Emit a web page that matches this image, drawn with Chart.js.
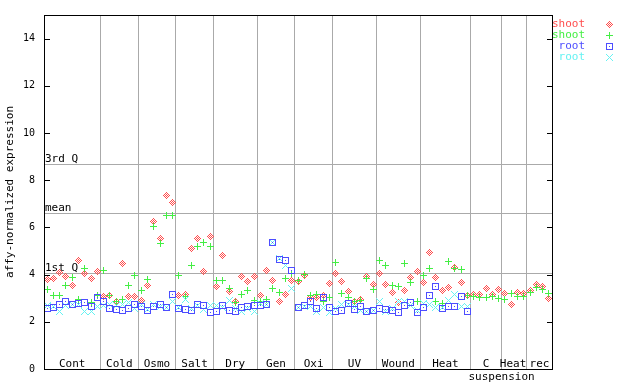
<!DOCTYPE html>
<html>
<head>
<meta charset="utf-8">
<script src="https://cdn.jsdelivr.net/npm/chart.js@4/dist/chart.umd.min.js"></script>
<style>
  body { margin: 0; background: #fff; }
  canvas { display: block; }
</style>
</head>
<body>
<canvas id="myChart" width="640" height="384"></canvas>
<script>
// Gruppi di campioni (etichette asse x) e numero di campioni per gruppo
const groupNames = ['Cont', 'Cold', 'Osmo', 'Salt', 'Dry', 'Gen', 'Oxi', 'UV', 'Wound', 'Heat', 'C suspension', 'Heat', 'rec'];
const groupSizes = [9, 6, 6, 6, 7, 6, 6, 7, 7, 8, 5, 4, 4];

// Valori, un valore per campione
const shootRed = [
    3.79, 3.82, 4.09, 3.91, 3.54, 4.60, 4.06, 3.82, 4.13,
    3.08, 3.11, 2.84, 4.46, 3.08, 3.08,
    2.90, 3.53, 6.27, 5.51, 7.37, 7.07,
    3.11, 3.15, 5.09, 5.55, 4.13, 5.60,
    3.49, 4.79, 3.28, 2.88, 3.91, 3.70, 3.91,
    3.11, 4.16, 3.74, 2.85, 3.15, 3.74,
    3.71, 3.95, 3.02, 3.02, 3.11, 3.61,
    4.03, 3.70, 3.28, 2.85, 2.94, 3.91, 3.57,
    4.03, 3.57, 3.23, 2.81, 3.32, 3.87, 4.12,
    3.65, 4.92, 3.87, 3.32, 3.44, 4.31, 3.65, 3.11,
    3.15, 3.15, 3.40, 3.15, 3.36,
    3.19, 2.73, 3.23, 3.19,
    3.32, 3.57, 3.49, 2.98
];
const shootGreen = [
    3.36, 3.11, 3.11, 3.53, 3.87, 2.94, 4.25, 2.81, 3.12,
    4.16, 3.11, 2.85, 2.94, 3.53, 3.95,
    3.32, 3.78, 6.02, 5.30, 6.52, 6.52,
    3.95, 3.07, 4.37, 5.17, 5.38, 5.17,
    3.74, 3.74, 3.40, 2.81, 3.15, 3.32, 2.90,
    2.85, 2.95, 3.40, 3.25, 3.85, 4.05,
    3.75, 4.00, 3.11, 3.15, 2.85, 3.02,
    4.50, 3.19, 3.02, 2.85, 2.90, 3.82, 3.36,
    4.58, 4.37, 3.53, 3.49, 4.46, 3.65, 2.85,
    3.95, 4.25, 2.85, 2.77, 4.54, 4.25, 4.21, 3.11,
    3.06, 3.02, 3.02, 3.06, 2.98,
    2.94, 3.19, 3.06, 3.06,
    3.23, 3.44, 3.36, 3.19
];
const rootBlue = [
    2.56, 2.60, 2.73, 2.85, 2.73, 2.76, 2.81, 2.64, 3.02,
    2.85, 2.56, 2.52, 2.48, 2.56, 2.73,
    2.64, 2.48, 2.64, 2.73, 2.60, 3.15,
    2.56, 2.52, 2.48, 2.73, 2.69, 2.39,
    2.43, 2.69, 2.48, 2.43, 2.60, 2.64, 2.69,
    2.69, 2.73, 5.37, 4.63, 4.58, 4.16,
    2.60, 2.69, 2.85, 2.56, 3.02, 2.60,
    2.43, 2.48, 2.77, 2.52, 2.64, 2.43, 2.48,
    2.56, 2.52, 2.47, 2.39, 2.68, 2.81, 2.39,
    2.60, 3.11, 3.49, 2.56, 2.64, 2.64, 3.06, 2.43,
    null, null, null, null, null,
    null, null, null, null,
    null, null, null, null
];
const rootCyan = [
    2.70, 2.65, 2.45, 2.70, 2.75, 2.75, 2.45, 2.45, 2.65,
    2.69, 2.74, 2.70, 2.74, 2.81, 2.56,
    2.73, 2.52, 2.72, 2.64, 2.60, 2.85,
    2.60, 2.94, 2.56, 2.69, 2.52, 2.69,
    2.69, 2.60, 2.90, 2.55, 2.43, 2.55, 2.43,
    2.77, 2.75, 5.35, 4.70, 4.40, 3.41,
    2.60, 2.65, 2.64, 2.43, 2.60, 2.39,
    2.55, 2.73, 2.75, 2.65, 2.50, 2.45, 2.50,
    2.85, 2.43, 2.55, 2.85, 2.85, 2.68, 2.47,
    2.77, 2.73, 2.60, 2.60, 2.90, 3.15, 2.64, 2.64,
    null, null, null, null, null,
    null, null, null, null,
    null, null, null, null
];

// Linee di riferimento (quartili e media)
const refNames = ['3rd Q', 'mean', '1st Q'];
const refValues = [8.69, 6.61, 4.08];

const yTicks = [0, 2, 4, 6, 8, 10, 12, 14];
const fontMono = "'DejaVu Sans Mono', monospace";

// Crea un piccolo marker 7x7 disegnato pixel per pixel
function makeMarker(kind, color) {
    const c = document.createElement('canvas');
    c.width = 7;
    c.height = 7;
    const g = c.getContext('2d');
    g.fillStyle = color;
    for (let dy = -3; dy <= 3; dy++) {
        for (let dx = -3; dx <= 3; dx++) {
            const ax = Math.abs(dx), ay = Math.abs(dy);
            let on = false;
            if (kind === 'diamond') on = (ax + ay <= 3) && ((ax + ay) % 2 === 1);
            if (kind === 'plus') on = (dx === 0 || dy === 0);
            if (kind === 'square') on = (ax === 3 || ay === 3) || (dx === 0 && dy === 0);
            if (kind === 'cross') on = (ax === ay);
            if (on) g.fillRect(dx + 3, dy + 3, 1, 1);
        }
    }
    return c;
}

// Trasforma una serie in punti {x, y}
function toPoints(values) {
    return values.map((v, i) => ({ x: i + 0.5, y: v }));
}

const series = [
    { label: 'shoot', data: shootRed, color: '#ff4d4d', marker: 'diamond', order: 4 },
    { label: 'shoot', data: shootGreen, color: '#44ee44', marker: 'plus', order: 3 },
    { label: 'root', data: rootBlue, color: '#4d4dff', marker: 'square', order: 1 },
    { label: 'root', data: rootCyan, color: '#66f2f2', marker: 'cross', order: 2 }
];
series.forEach(s => s.img = makeMarker(s.marker, s.color));

// Plugin per griglia, etichette dei gruppi, cornice e legenda
const framePlugin = {
    id: 'framePlugin',
    beforeDatasetsDraw(chart) {
        const ctx = chart.ctx;
        const area = chart.chartArea;
        const xs = chart.scales.x;
        const ys = chart.scales.y;
        ctx.save();
        ctx.strokeStyle = '#aaaaaa';
        ctx.lineWidth = 1;
        // separatori verticali tra i gruppi
        let acc = 0;
        for (let g = 0; g < groupSizes.length - 1; g++) {
            acc += groupSizes[g];
            const px = Math.floor(xs.getPixelForValue(acc)) + 0.5;
            ctx.beginPath();
            ctx.moveTo(px, area.top);
            ctx.lineTo(px, area.bottom);
            ctx.stroke();
        }
        // linee dei quartili
        ctx.font = '11px ' + fontMono;
        ctx.fillStyle = '#000';
        ctx.textAlign = 'left';
        ctx.textBaseline = 'bottom';
        refValues.forEach((v, i) => {
            const py = Math.round(ys.getPixelForValue(v)) + 0.5;
            ctx.beginPath();
            ctx.moveTo(area.left, py);
            ctx.lineTo(area.right, py);
            ctx.stroke();
            ctx.fillText(refNames[i], area.left + 1, py);
        });
        // etichette dei gruppi
        ctx.textBaseline = 'middle';
        acc = 0;
        groupNames.forEach((name, g) => {
            const x0 = xs.getPixelForValue(acc);
            const x1 = xs.getPixelForValue(acc + groupSizes[g]);
            acc += groupSizes[g];
            const lines = name.split(' ');
            lines.forEach((line, k) => {
                const w = ctx.measureText(line).width;
                const y = area.bottom - 4.5 + k * 12.5;
                if (w > x1 - x0) {
                    ctx.textAlign = 'left';
                    ctx.fillText(line, x0 - 2, y);
                } else {
                    ctx.textAlign = 'center';
                    ctx.fillText(line, (x0 + x1) / 2, y);
                }
            });
        });
        ctx.restore();
        ctx.imageSmoothingEnabled = false;
    },
    afterDatasetsDraw(chart) {
        const ctx = chart.ctx;
        const area = chart.chartArea;
        const ys = chart.scales.y;
        ctx.save();
        ctx.strokeStyle = '#000';
        ctx.lineWidth = 1;
        ctx.strokeRect(area.left + 0.5, area.top + 0.5, area.right - area.left, area.bottom - area.top);
        // tacche interne sugli assi verticali
        yTicks.forEach(v => {
            const py = Math.round(ys.getPixelForValue(v)) + 0.5;
            ctx.beginPath();
            ctx.moveTo(area.left, py);
            ctx.lineTo(area.left + 6, py);
            ctx.moveTo(area.right - 5, py);
            ctx.lineTo(area.right + 1, py);
            ctx.stroke();
        });
        ctx.restore();
    },
    afterDraw(chart) {
        const ctx = chart.ctx;
        ctx.save();
        ctx.imageSmoothingEnabled = false;
        ctx.font = '11px ' + fontMono;
        ctx.textAlign = 'right';
        ctx.textBaseline = 'middle';
        series.forEach((s, i) => {
            const y = 24 + i * 11;
            ctx.fillStyle = s.color;
            ctx.fillText(s.label, 585, y);
            ctx.drawImage(s.img, 606, y - 3);
        });
        ctx.restore();
    }
};

const ctx = document.getElementById('myChart').getContext('2d');
new Chart(ctx, {
    type: 'scatter',
    data: {
        datasets: series.map(s => ({
            label: s.label,
            data: toPoints(s.data),
            pointStyle: s.img,
            pointRadius: 3.5,
            pointHoverRadius: 3.5,
            borderColor: s.color,
            backgroundColor: s.color,
            showLine: false,
            order: s.order
        }))
    },
    options: {
        responsive: false,
        animation: false,
        events: [],
        layout: { padding: { top: 13, right: 88, bottom: 15, left: 0 } },
        plugins: {
            legend: { display: false },
            tooltip: { enabled: false }
        },
        scales: {
            x: { type: 'linear', min: 0, max: 81, display: false },
            y: {
                type: 'linear',
                min: 0,
                max: 15,
                afterFit: scale => { scale.width = 44; },
                grid: { display: false, drawTicks: false },
                border: { display: false },
                ticks: {
                    stepSize: 2,
                    includeBounds: false,
                    padding: 9,
                    color: '#000',
                    font: { family: fontMono, size: 10 }
                },
                title: {
                    display: true,
                    text: 'affy-normalized expression',
                    color: '#000',
                    padding: { top: 4, bottom: 0 },
                    font: { family: fontMono, size: 11 }
                }
            }
        }
    },
    plugins: [framePlugin]
});
</script>
</body>
</html>
